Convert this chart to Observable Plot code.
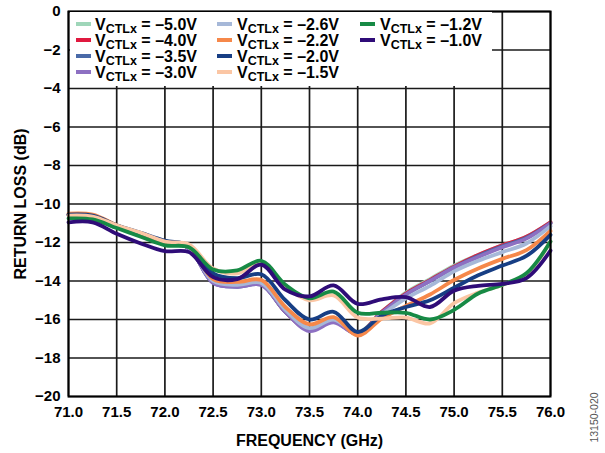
<!DOCTYPE html>
<html>
<head>
<meta charset="utf-8">
<script src="https://cdn.jsdelivr.net/npm/d3@7"></script>
<script src="https://cdn.jsdelivr.net/npm/@observablehq/plot@0.6"></script>
<style>
  html, body { margin: 0; padding: 0; background: #fff; }
  #chart { width: 605px; height: 453px; }
</style>
</head>
<body>
<div id="chart"></div>
<script>
// Frequency points (GHz)
const freq = [71.0, 71.25, 71.5, 71.75, 72.0, 72.25, 72.5, 72.75, 73.0, 73.25, 73.5, 73.75, 74.0, 74.25, 74.5, 74.75, 75.0, 75.25, 75.5, 75.75, 76.0];

// Return loss (dB) per control voltage
const rl_m50 = [-10.56, -10.6, -11.15, -11.6, -11.95, -12.3, -14.05, -14.25, -14.15, -15.6, -16.5, -16.05, -16.7, -15.6, -14.6, -13.9, -13.2, -12.65, -12.15, -11.7, -10.95];
const rl_m40 = [-10.56, -10.6, -11.15, -11.6, -11.95, -12.3, -14.05, -14.25, -14.15, -15.6, -16.55, -16.1, -16.75, -15.6, -14.65, -13.95, -13.25, -12.65, -12.15, -11.7, -10.95];
const rl_m35 = [-10.56, -10.6, -11.15, -11.6, -11.95, -12.3, -14.1, -14.3, -14.2, -15.6, -16.55, -16.1, -16.75, -15.65, -14.7, -14.0, -13.3, -12.7, -12.2, -11.75, -11.0];
const rl_m30 = [-10.56, -10.6, -11.15, -11.6, -11.95, -12.3, -14.1, -14.3, -14.2, -15.6, -16.6, -16.15, -16.75, -15.65, -14.7, -14.0, -13.3, -12.75, -12.25, -11.8, -11.0];
const rl_m26 = [-10.56, -10.6, -11.15, -11.6, -11.95, -12.25, -14.0, -14.2, -14.1, -15.5, -16.45, -16.0, -16.7, -15.75, -14.9, -14.25, -13.5, -12.95, -12.5, -12.05, -11.15];
const rl_m22 = [-10.5, -10.55, -11.1, -11.55, -11.95, -12.2, -13.9, -14.05, -13.95, -15.35, -16.25, -15.88, -16.83, -15.95, -15.3, -14.7, -13.95, -13.35, -12.85, -12.4, -11.4];
const rl_m20 = [-10.55, -10.6, -11.1, -11.5, -11.9, -12.15, -13.6, -13.85, -13.65, -15.0, -16.0, -15.6, -16.65, -15.8, -15.35, -15.0, -14.35, -13.7, -13.2, -12.7, -11.6];
const rl_m15 = [-10.6, -10.65, -11.1, -11.5, -11.95, -12.1, -13.35, -13.6, -13.05, -14.3, -15.0, -14.75, -15.9, -15.95, -15.9, -16.2, -15.15, -14.6, -14.2, -13.65, -11.95];
const rl_m12 = [-10.75, -10.8, -11.25, -11.7, -12.15, -12.25, -13.4, -13.45, -12.95, -14.2, -14.9, -14.55, -15.65, -15.65, -15.65, -16.0, -15.5, -14.65, -14.2, -13.6, -11.95];
const rl_m10 = [-10.95, -10.95, -11.55, -12.05, -12.45, -12.5, -13.8, -13.9, -13.15, -14.45, -14.8, -14.23, -15.19, -14.95, -14.84, -15.35, -14.5, -14.25, -14.15, -13.85, -12.42];

const voltages = ["–5.0V", "–4.0V", "–3.5V", "–3.0V", "–2.6V", "–2.2V", "–2.0V", "–1.5V", "–1.2V", "–1.0V"];
const seriesValues = [rl_m50, rl_m40, rl_m35, rl_m30, rl_m26, rl_m22, rl_m20, rl_m15, rl_m12, rl_m10];
const colors = ["#9fd6b9", "#e0193f", "#4a6aa8", "#8d70c2", "#a6b8d8", "#f6884a", "#173e84", "#fbc6a4", "#178a45", "#2f0c78"];

const xTicks = [71.0, 71.5, 72.0, 72.5, 73.0, 73.5, 74.0, 74.5, 75.0, 75.5, 76.0];
const yTicks = [0, -2, -4, -6, -8, -10, -12, -14, -16, -18, -20];

const rows = [];
voltages.forEach((v, i) => {
  freq.forEach((f, j) => rows.push({v, f, rl: seriesValues[i][j]}));
});

const W = 605, H = 453;
const mL = 68, mR = 55, mT = 11, mB = 57;

const svg = Plot.plot({
  width: W,
  height: H,
  marginLeft: mL,
  marginRight: mR,
  marginTop: mT,
  marginBottom: mB,
  style: {fontFamily: "'Liberation Sans', Arial, sans-serif", fontSize: "15px", fontWeight: "bold", color: "#000", background: "#fff"},
  x: {domain: [71, 76], ticks: xTicks, tickFormat: d3.format(".1f")},
  y: {domain: [-20, 0], ticks: yTicks},
  color: {domain: voltages, range: colors},
  marks: [
    Plot.gridX(xTicks, {stroke: "#1a1a1a", strokeOpacity: 1, strokeWidth: 1.7}),
    Plot.gridY(yTicks, {stroke: "#1a1a1a", strokeOpacity: 1, strokeWidth: 1.7}),
    Plot.line(rows, {x: "f", y: "rl", z: "v", stroke: "v", strokeWidth: 3.8, curve: "catmull-rom"}),
    Plot.axisX(xTicks, {tickSize: 0, tickPadding: 10, label: null, tickFormat: d3.format(".1f")}),
    Plot.axisY(yTicks, {tickSize: 0, tickPadding: 8, label: null}),
    Plot.frame({stroke: "#000", strokeWidth: 2}),
    Plot.text(["FREQUENCY (GHz)"], {frameAnchor: "bottom", dy: 44, textAnchor: "middle", lineAnchor: "middle", fontSize: 16, fontWeight: "bold", fill: "#000"}),
    Plot.text(["RETURN LOSS (dB)"], {frameAnchor: "left", dx: -48, rotate: -90, textAnchor: "middle", lineAnchor: "middle", fontSize: 16, fontWeight: "bold", fill: "#000"}),
    Plot.text(["13150-020"], {frameAnchor: "bottom-right", dx: 44.5, dy: 21, rotate: -90, textAnchor: "middle", lineAnchor: "middle", fontSize: 10.5, fontWeight: "normal", fill: "#555"})
  ]
});

// Legend inside the plot area
const g = d3.select(svg).append("g").attr("text-anchor", "start");
g.append("rect").attr("x", 70).attr("y", 12).attr("width", 422).attr("height", 74).attr("fill", "#fff");
const colX = [76, 217, 360];
const textX = [95, 237, 380];
const rowY = [24, 40, 56, 72];
voltages.forEach((v, i) => {
  const c = Math.floor(i / 4), r = i % 4;
  const cy = rowY[r];
  g.append("line").attr("x1", colX[c]).attr("x2", colX[c] + 15).attr("y1", cy).attr("y2", cy)
    .attr("stroke", colors[i]).attr("stroke-width", 4);
  const t = g.append("text").attr("x", textX[c]).attr("y", cy + 5.5)
    .attr("text-anchor", "start")
    .attr("font-size", 16).attr("font-weight", "bold").attr("fill", "#000");
  t.append("tspan").text("V");
  t.append("tspan").attr("font-size", 12.5).attr("dy", 3.5).text("CTLx");
  t.append("tspan").attr("dy", -3.5).text(" = " + v);
});

document.getElementById("chart").appendChild(svg);
</script>
</body>
</html>
